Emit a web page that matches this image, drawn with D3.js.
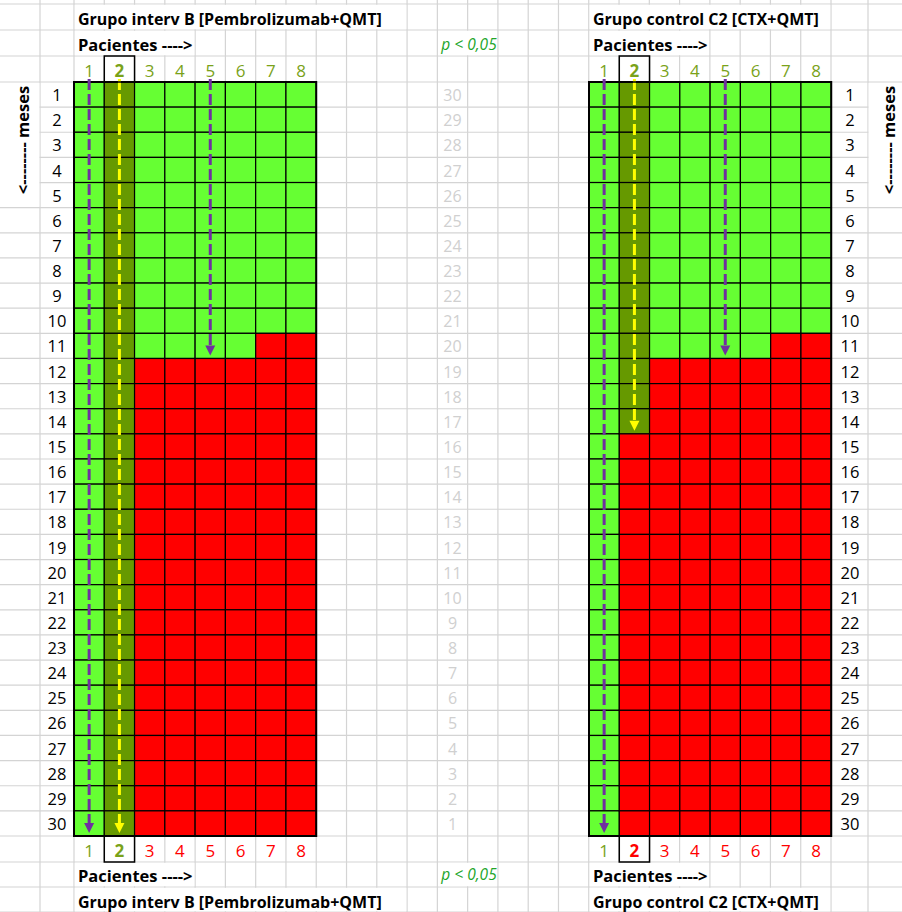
<!DOCTYPE html>
<html>
<head>
<meta charset="utf-8">
<script src="https://cdn.jsdelivr.net/npm/d3@7"></script>
<style>
body { margin: 0; background: #fff; }
svg { display: block; }
text { font-family: "Open Sans", Lato, sans-serif; }
</style>
</head>
<body>
<div id="chart"></div>
<script>
// data
var patients = [1, 2, 3, 4, 5, 6, 7, 8];
var months = [1, 2, 3, 4, 5, 6, 7, 8, 9, 10, 11, 12, 13, 14, 15, 16, 17, 18, 19, 20, 21, 22, 23, 24, 25, 26, 27, 28, 29, 30];
var monthsBack = [30, 29, 28, 27, 26, 25, 24, 23, 22, 21, 20, 19, 18, 17, 16, 15, 14, 13, 12, 11, 10, 9, 8, 7, 6, 5, 4, 3, 2, 1];
var survivalB = [30, 30, 11, 11, 11, 11, 10, 10];   // months alive, grupo B
var survivalC2 = [30, 14, 11, 11, 11, 11, 10, 10];  // months alive, grupo C2
var highlighted = 2;
var arrowPatients = [1, 2, 5];
var titleB = "Grupo interv B [Pembrolizumab+QMT]";
var titleC2 = "Grupo control C2 [CTX+QMT]";
var axisLabel = "Pacientes ---->";
var sideLabel = "<-------- meses";
var pLabel = "p < 0,05";

var width = 902, height = 912;
var green = "#66ff33", olive = "#669900", red = "#ff0000",
    numGreen = "#7aa21a", purple = "#7030a0", yellow = "#ffff00",
    gridColor = "#d4d4d4";

var svg = d3.select("#chart").append("svg")
    .attr("width", width)
    .attr("height", height);

// spreadsheet grid
var colW = (831 - 74) / 25;
var vLines = [40];
for (var i = 0; i <= 25; i++) vLines.push(74 + i * colW);
vLines.push(868);

var yMonth = d3.scaleBand().domain(months).range([82, 836]);
var hLines = [4, 30, 56];
months.forEach(function(m) { hLines.push(yMonth(m)); });
hLines.push(836, 862, 887, 912);

var grid = svg.append("g");
grid.selectAll("line.v").data(vLines).enter().append("line")
    .attr("x1", function(d) { return d; }).attr("x2", function(d) { return d; })
    .attr("y1", 0).attr("y2", height)
    .attr("stroke", gridColor).attr("stroke-width", 1.2);
grid.selectAll("line.h").data(hLines).enter().append("line")
    .attr("x1", 0).attr("x2", width)
    .attr("y1", function(d) { return d; }).attr("y2", function(d) { return d; })
    .attr("stroke", gridColor).attr("stroke-width", 1.2);

// merged cells for the "meses" labels
grid.append("rect").attr("x", 0).attr("y", 83).attr("width", 39.4).attr("height", yMonth(6) - 84).attr("fill", "#fff");
grid.append("rect").attr("x", 868.6).attr("y", 83).attr("width", 40).attr("height", yMonth(6) - 84).attr("fill", "#fff");

var textLayer = svg.append("g");

// text that overflows its cell hides the vertical gridlines under it
function cellText(x, rowTop, rowH, baseline, str, opts) {
    var t = textLayer.append("text")
        .attr("x", x + 4).attr("y", baseline)
        .attr("font-size", opts.size)
        .attr("font-weight", opts.weight || "normal")
        .attr("font-style", opts.style || "normal")
        .attr("fill", opts.color || "#000")
        .text(str);
    var w = t.node().getComputedTextLength();
    var endCol = Math.ceil((x + 4 + w - 74) / colW);
    var xEnd = 74 + endCol * colW;
    textLayer.insert("rect", "text")
        .attr("x", x + 0.8).attr("y", rowTop + 0.8)
        .attr("width", xEnd - x - 1.6).attr("height", rowH - 1.6)
        .attr("fill", "#fff");
}

var groups = [
    { title: titleB, survival: survivalB, x0: 74, labelX: 57, sideX: 22 },
    { title: titleC2, survival: survivalC2, x0: 589, labelX: 850, sideX: 888 }
];

groups.forEach(function(g) {
    var x = d3.scaleBand().domain(patients).range([g.x0, g.x0 + 8 * colW]);
    var cells = [];
    patients.forEach(function(p, i) {
        months.forEach(function(m) {
            cells.push({ p: p, m: m, alive: m <= g.survival[i] });
        });
    });

    var chart = svg.append("g");
    chart.selectAll("rect.cell").data(cells).enter().append("rect")
        .attr("x", function(d) { return x(d.p); })
        .attr("y", function(d) { return yMonth(d.m); })
        .attr("width", x.bandwidth())
        .attr("height", yMonth.bandwidth())
        .attr("fill", function(d) {
            if (!d.alive) return red;
            return d.p == highlighted ? olive : green;
        })
        .attr("stroke", "#000").attr("stroke-width", 1.2);

    chart.append("rect")
        .attr("x", x(1)).attr("y", yMonth(1))
        .attr("width", 8 * x.bandwidth()).attr("height", 30 * yMonth.bandwidth())
        .attr("fill", "none").attr("stroke", "#000").attr("stroke-width", 2);

    // arrows
    arrowPatients.forEach(function(p) {
        var end = yMonth(g.survival[p - 1]) + yMonth.bandwidth() - 3;
        var cx = x(p) + x.bandwidth() / 2;
        var col = p == highlighted ? yellow : purple;
        chart.append("line")
            .attr("x1", cx).attr("x2", cx)
            .attr("y1", 79).attr("y2", end - 8)
            .attr("stroke", col).attr("stroke-width", 3)
            .attr("stroke-dasharray", "11,4");
        chart.append("path")
            .attr("d", "M" + (cx - 5) + "," + (end - 10) + "L" + (cx + 5) + "," + (end - 10) + "L" + cx + "," + end + "Z")
            .attr("fill", col);
    });

    // patient numbers, top and bottom
    [{ top: 56, base: 77, bottom: false }, { top: 836, base: 857, bottom: true }].forEach(function(r) {
        svg.selectAll(null).data(patients).enter().append("text")
            .attr("x", function(p) { return x(p) + x.bandwidth() / 2; })
            .attr("y", r.base)
            .attr("text-anchor", "middle")
            .attr("font-size", 17)
            .attr("font-weight", function(p) { return p == highlighted ? "bold" : "normal"; })
            .attr("fill", function(p) {
                if (!r.bottom) return numGreen;
                return g.survival[p - 1] >= 30 ? numGreen : red;
            })
            .text(function(p) { return p; });
        svg.append("rect")
            .attr("x", x(highlighted)).attr("y", r.top)
            .attr("width", x.bandwidth()).attr("height", 26)
            .attr("fill", "none").attr("stroke", "#000").attr("stroke-width", 1.5);
    });

    // month labels
    svg.selectAll(null).data(months).enter().append("text")
        .attr("x", g.labelX)
        .attr("y", function(m) { return yMonth(m) + yMonth.bandwidth() - 6; })
        .attr("text-anchor", "middle")
        .attr("font-size", 16.5)
        .text(function(m) { return m; });

    svg.append("text")
        .attr("transform", "translate(" + g.sideX + ",140) rotate(-90)")
        .attr("text-anchor", "middle")
        .attr("dominant-baseline", "central")
        .attr("font-size", 16.5)
        .attr("font-weight", "bold")
        .text(sideLabel);

    cellText(g.x0, 4, 26, 25, g.title, { size: 16, weight: "bold" });
    cellText(g.x0, 30, 26, 51, axisLabel, { size: 16.5, weight: "bold" });
    cellText(g.x0, 862, 25, 882, axisLabel, { size: 16.5, weight: "bold" });
    cellText(g.x0, 887, 25, 908, g.title, { size: 16, weight: "bold" });
});

// faint reversed month column in the middle
svg.selectAll(null).data(monthsBack).enter().append("text")
    .attr("x", 74 + 12.5 * colW)
    .attr("y", function(d, i) { return yMonth(months[i]) + yMonth.bandwidth() - 6; })
    .attr("text-anchor", "middle")
    .attr("font-size", 16)
    .attr("fill", "#d0d0d0")
    .text(function(d) { return d; });

cellText(74 + 12 * colW, 30, 26, 50, pLabel, { size: 15.5, style: "italic", color: "#22a52a" });
cellText(74 + 12 * colW, 862, 25, 880, pLabel, { size: 15.5, style: "italic", color: "#22a52a" });
</script>
</body>
</html>
